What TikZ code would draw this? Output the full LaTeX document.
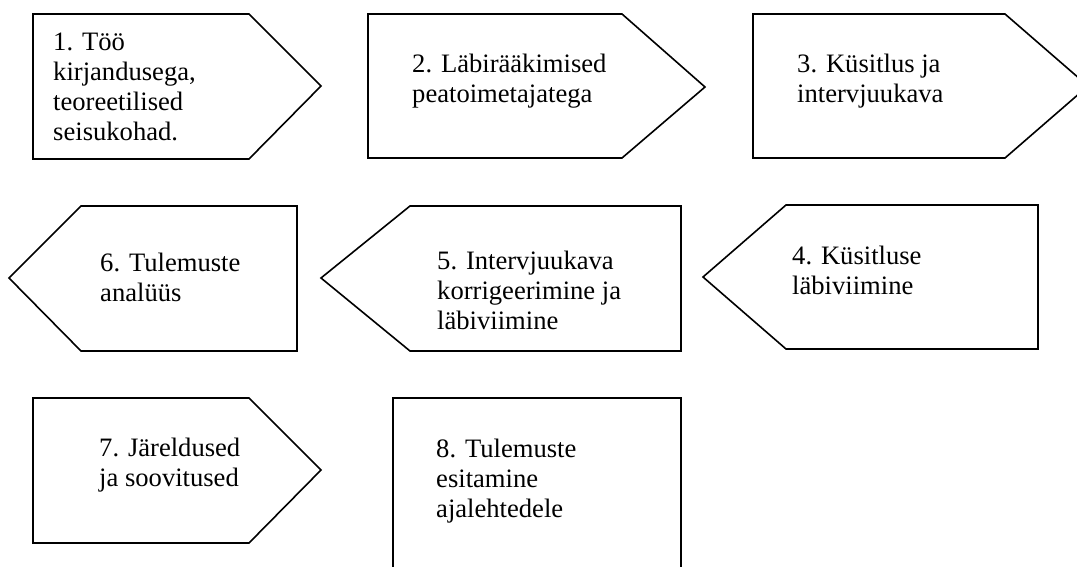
\documentclass[tikz,border=0pt]{standalone}
\usepackage{fontspec}
\setmainfont{Liberation Serif}
\newcommand\tlines[1]{\vtop{\baselineskip=30pt\lineskiplimit=-10pt\halign{##\hfil\cr#1\crcr}}}
\tikzset{
  stepshape/.style={draw=black, line width=1.6pt, fill=white, line join=miter},
  steptext/.style={anchor=base west, inner sep=0pt, font=\fontsize{26.6}{30}\selectfont}
}
\begin{document}
\begin{tikzpicture}[x=1pt,y=-1pt]
\useasboundingbox[fill=white] (0,0) rectangle (1077,567);
\begin{scope}
\clip (0,0) rectangle (1077,567);
% row 1
\draw[stepshape] (33,14) -- (249,14) -- (321,86) -- (249,159) -- (33,159) -- cycle;
\draw[stepshape] (368,14) -- (622,14) -- (705,87) -- (622,158) -- (368,158) -- cycle;
\draw[stepshape] (753,14) -- (1005,14) -- (1088,86) -- (1005,158) -- (753,158) -- cycle;
% row 2
\draw[stepshape] (81,206) -- (297,206) -- (297,351) -- (81,351) -- (9,278) -- cycle;
\draw[stepshape] (410,206) -- (681,206) -- (681,351) -- (410,351) -- (321,278) -- cycle;
\draw[stepshape] (786,205) -- (1038,205) -- (1038,349) -- (786,349) -- (703,277) -- cycle;
% row 3
\draw[stepshape] (33,398) -- (249,398) -- (321,470) -- (249,543) -- (33,543) -- cycle;
\draw[stepshape] (393,590) -- (393,398) -- (681,398) -- (681,590);
\end{scope}
\node[steptext] (t1) at (53,50.7) {\tlines{1. Töö\cr kirjandusega,\cr teoreetilised\cr seisukohad.}};
\node[steptext] (t2) at (412,73) {\tlines{2. Läbirääkimised\cr peatoimetajatega}};
\node[steptext] (t3) at (797,73) {\tlines{3. Küsitlus ja\cr intervjuukava}};
\node[steptext] (t6) at (100,271) {\tlines{6. Tulemuste\cr analüüs}};
\node[steptext] (t5) at (437,269) {\tlines{5. Intervjuukava\cr korrigeerimine ja\cr läbiviimine}};
\node[steptext] (t4) at (792,264) {\tlines{4. Küsitluse\cr läbiviimine}};
\node[steptext] (t7) at (99,456) {\tlines{7. Järeldused\cr ja soovitused}};
\node[steptext] (t8) at (436,457) {\tlines{8. Tulemuste\cr esitamine\cr ajalehtedele}};
\end{tikzpicture}
\end{document}
